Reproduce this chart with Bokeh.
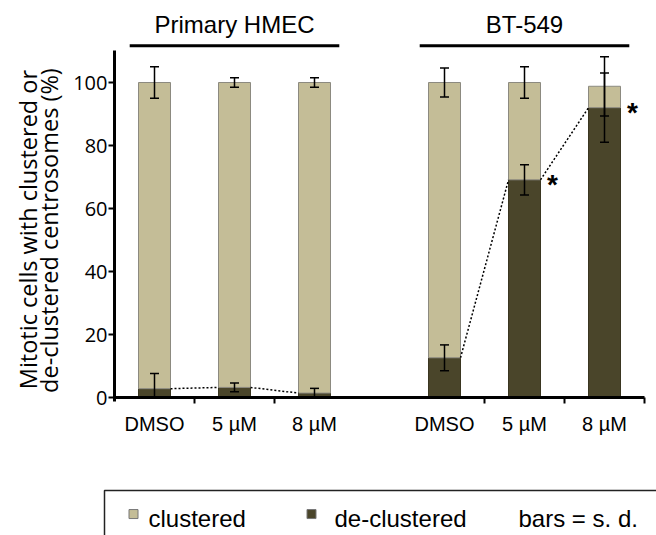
import math
from bokeh.plotting import figure
from bokeh.models import Range1d, LinearAxis, FixedTicker, ColumnDataSource, Whisker, TeeHead
from bokeh.core.properties import value
from bokeh.embed import file_html
from bokeh.resources import INLINE

# ---------------- data ----------------
groups = ["Primary HMEC", "BT-549"]
treatments = ["DMSO", "5 µM", "8 µM"]
declustered = [2.8, 3.2, 1.4, 12.6, 69.1, 92.0]
declustered_sd = [4.8, 1.4, 1.5, 4.1, 4.8, 11.0]
clustered = [97.2, 96.8, 98.6, 87.4, 30.9, 6.8]
clustered_sd = [5.0, 1.5, 1.5, 4.6, 5.0, 9.4]
significant = [False, False, False, False, True, True]
y_ticks = [0, 20, 40, 60, 80, 100]
legend_labels = ["clustered", "de-clustered", "bars = s. d."]
y_label_lines = ["Mitotic cells with clustered or", "de-clustered centrosomes (%)"]

# ---------------- layout ----------------
LIGHT = "#C4BD97"
DARK = "#4A452A"
PX_X = 80.0      # px per x unit
PX_Y = 3.15      # px per y unit
X0 = 114         # canvas x of data x=0
Y0 = 397         # canvas y of data y=0
W, H = 656, 535
BAR_W = 0.4
group_start = [0.0, 3.625]

positions = []
labels = []
for g, gs in enumerate(group_start):
    for i, t in enumerate(treatments):
        positions.append(gs + i + 0.5)
        labels.append(t)
boundaries = [gs + i + 1 for gs in group_start for i in range(3)]
boundaries = [b for b in boundaries if b != 3.0]
group_centers = [gs + 1.5 for gs in group_start]

total = [d + c for d, c in zip(declustered, clustered)]

p = figure(width=W, height=H,
           x_range=Range1d(-X0 / PX_X, (W - X0) / PX_X),
           y_range=Range1d(-(H - Y0) / PX_Y, Y0 / PX_Y),
           output_backend="svg", toolbar_location=None,
           x_axis_type=None, y_axis_type=None, min_border=0)
p.outline_line_color = None
p.background_fill_color = "white"

# axes
xaxis = LinearAxis(fixed_location=0, bounds=(0, boundaries[-1]),
                   ticker=FixedTicker(ticks=positions, minor_ticks=boundaries),
                   major_label_overrides={pos: lab for pos, lab in zip(positions, labels)},
                   axis_line_width=3, axis_line_color="black",
                   major_tick_out=0, major_tick_in=0,
                   minor_tick_out=6, minor_tick_in=0, minor_tick_line_width=2,
                   minor_tick_line_color="black",
                   major_label_text_font="Liberation Sans",
                   major_label_text_font_size="20px",
                   major_label_text_color="black",
                   major_label_standoff=9)
p.add_layout(xaxis, "below")

yaxis = LinearAxis(fixed_location=0, bounds=(-1.3, 110.2),
                   ticker=FixedTicker(ticks=y_ticks),
                   axis_line_width=3, axis_line_color="black",
                   major_tick_out=6, major_tick_in=0, major_tick_line_width=2,
                   major_tick_line_color="black",
                   minor_tick_out=0, minor_tick_in=0,
                   major_label_text_font="Open Sans",
                   major_label_text_font_size="20px",
                   major_label_text_color="black",
                   major_label_standoff=1)
p.add_layout(yaxis, "left")

# bars
p.vbar(x=positions, width=BAR_W, bottom=0, top=declustered,
       fill_color=DARK, line_color="#3a3621", line_width=1)
p.vbar(x=positions, width=BAR_W, bottom=declustered, top=total,
       fill_color=LIGHT, line_color="#8c8a80", line_width=1)

# dotted connectors between de-clustered tops
x0s, x1s, y0s, y1s = [], [], [], []
for g in range(len(groups)):
    for i in range(len(treatments) - 1):
        a = g * 3 + i
        b = a + 1
        x0s.append(positions[a] + BAR_W / 2)
        y0s.append(declustered[a])
        x1s.append(positions[b] - BAR_W / 2)
        y1s.append(declustered[b])
p.segment(x0=x0s, y0=y0s, x1=x1s, y1=y1s, line_color="black",
          line_width=1.5, line_dash="2 2")

# error bars
err_src = ColumnDataSource(dict(
    x=positions + positions,
    upper=[t + s for t, s in zip(total, clustered_sd)] +
          [d + s for d, s in zip(declustered, declustered_sd)],
    lower=[t - s for t, s in zip(total, clustered_sd)] +
          [max(0.0, d - s) for d, s in zip(declustered, declustered_sd)],
))
wh = Whisker(source=err_src, base="x", upper="upper", lower="lower",
             line_color="black", line_width=1.5, level="annotation",
             upper_head=TeeHead(size=9, line_color="black", line_width=1.5),
             lower_head=TeeHead(size=9, line_color="black", line_width=1.5))
p.add_layout(wh)

# significance asterisks
sx = [positions[i] + BAR_W / 2 + 0.15 for i in range(6) if significant[i]]
sy = [declustered[i] for i in range(6) if significant[i]]
p.text(x=sx, y=sy, text=["*"] * len(sx), text_align="center",
       text_baseline="alphabetic", y_offset=5,
       text_font=value("Liberation Sans"), text_font_size="28px",
       text_font_style="bold", text_color="black")

# group titles and lines
p.text(x=group_centers, y=[118.3] * 2, text=groups, text_align="center",
       text_baseline="alphabetic", text_font=value("Liberation Sans"),
       text_font_size="24px", text_color="black")
p.segment(x0=[c - 1.31 for c in group_centers], x1=[c + 1.31 for c in group_centers],
          y0=[111.7] * 2, y1=[111.7] * 2, line_color="black", line_width=3)

# y-axis label (two lines)
p.text(x=[-1.08, -0.82], y=[53.3, 53.0], text=y_label_lines, angle=math.pi / 2,
       text_align="center", text_baseline="middle",
       text_font=value("Open Sans"), text_font_size="23.5px", text_color="black")

# legend
p.quad(left=[-0.125], right=[8.0], top=[-29.5], bottom=[-60.0],
       fill_color=None, line_color="#222222", line_width=1.5)
p.scatter(x=[0.2375, 2.4625], y=[-37.0, -37.0], marker="square", size=9,
          fill_color=[LIGHT, DARK], line_color="#777777", line_width=1)
p.text(x=[0.425, 2.75, 5.05], y=[-38.4] * 3, text=legend_labels,
       text_align="left", text_baseline="alphabetic",
       text_font=value("Liberation Sans"), text_font_size="24px",
       text_color="black")

open("out.html", "w").write(file_html(p, INLINE))
